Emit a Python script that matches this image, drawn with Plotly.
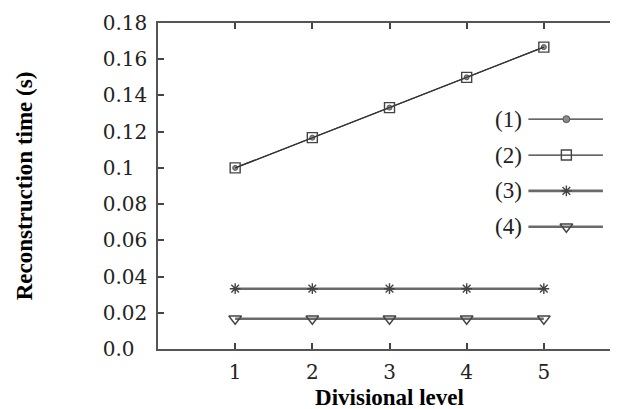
import plotly.graph_objects as go

levels = [1, 2, 3, 4, 5]
series_names = ["(1)", "(2)", "(3)", "(4)"]
series1 = [0.100, 0.1167, 0.1333, 0.150, 0.1667]
series2 = [0.100, 0.1167, 0.1333, 0.150, 0.1667]
series3 = [0.0333, 0.0333, 0.0333, 0.0333, 0.0333]
series4 = [0.0167, 0.0167, 0.0167, 0.0167, 0.0167]
y_tickvals = [0.0, 0.02, 0.04, 0.06, 0.08, 0.1, 0.12, 0.14, 0.16, 0.18]
y_ticktext = ["0.0", "0.02", "0.04", "0.06", "0.08", "0.1", "0.12", "0.14", "0.16", "0.18"]
x_tickvals = [1, 2, 3, 4, 5]

styles = [
    dict(symbol="circle", size=5, color="#8a8a8a", lcolor="#555", lwidth=1.0, line_color="#333", line_width=1.2),
    dict(symbol="square-open", size=10, color="#444", lcolor="#444", lwidth=1.4, line_color="#333", line_width=1.2),
    dict(symbol="asterisk-open", size=9, color="#444", lcolor="#444", lwidth=1.4, line_color="#6a6a6a", line_width=2.6),
    dict(symbol="triangle-down-open", size=11, color="#444", lcolor="#444", lwidth=1.4, line_color="#6a6a6a", line_width=2.6),
]
data = [series1, series2, series3, series4]

# left-align the y tick labels (pad the 3-character ones by one digit width)
max_len = max(len(t) for t in y_ticktext)
y_ticktext_aligned = [t + "&nbsp;&nbsp;" * (max_len - len(t)) for t in y_ticktext]

fig = go.Figure()
for vals, st, nm in zip(data, styles, series_names):
    fig.add_trace(go.Scatter(
        x=levels, y=vals, mode="lines+markers", name=nm, showlegend=False,
        line=dict(color=st["line_color"], width=st["line_width"]),
        marker=dict(symbol=st["symbol"], size=st["size"], color=st["color"],
                    line=dict(color=st["lcolor"], width=st["lwidth"])),
    ))

# custom key (label on the left of the sample, gnuplot style)
key_x0, key_x1, key_xm = 0.80, 0.961, 0.882
key_ys = [0.705, 0.595, 0.485, 0.375]
for st, nm, ky in zip(styles, series_names, key_ys):
    fig.add_trace(go.Scatter(
        x=[key_x0, key_x1], y=[ky, ky], mode="lines", xaxis="x2", yaxis="y2",
        showlegend=False, hoverinfo="skip",
        line=dict(color=st["line_color"], width=st["line_width"]),
    ))
    fig.add_trace(go.Scatter(
        x=[key_xm], y=[ky], mode="markers", xaxis="x2", yaxis="y2",
        showlegend=False, hoverinfo="skip",
        marker=dict(symbol=st["symbol"], size=st["size"] + (2 if st["symbol"] == "circle" else 0),
                    color=st["color"], line=dict(color=st["lcolor"], width=st["lwidth"])),
    ))
    fig.add_annotation(x=0.79, y=ky, xref="paper", yref="paper", text=nm,
                       showarrow=False, xanchor="right", yanchor="middle",
                       font=dict(family="Liberation Serif", size=23, color="#222"))

axis_common = dict(showline=True, linecolor="#555", linewidth=1.6, mirror="ticks",
                   ticks="inside", ticklen=6, tickwidth=1.5, tickcolor="#444",
                   showgrid=False, zeroline=False,
                   tickfont=dict(family="DejaVu Serif", size=20, color="#222"))

fig.update_layout(
    width=618, height=409,
    margin=dict(l=150, r=3, t=14, b=68),
    paper_bgcolor="white", plot_bgcolor="white",
    xaxis=dict(range=[0, 6], tickvals=x_tickvals, ticklabelstandoff=4, **axis_common,
               title=dict(text="<b>Divisional level</b>", standoff=6,
                          font=dict(family="Liberation Serif", size=23, color="black"))),
    yaxis=dict(range=[0, 0.18], tickvals=y_tickvals, ticktext=y_ticktext_aligned, ticklabelstandoff=5,
               **axis_common,
               title=dict(text="<b>Reconstruction time (s)</b>", standoff=64,
                          font=dict(family="Liberation Serif", size=23, color="black"))),
    xaxis2=dict(overlaying="x", range=[0, 1], visible=False),
    yaxis2=dict(overlaying="y", range=[0, 1], visible=False),
)

fig.write_html("out.html")
